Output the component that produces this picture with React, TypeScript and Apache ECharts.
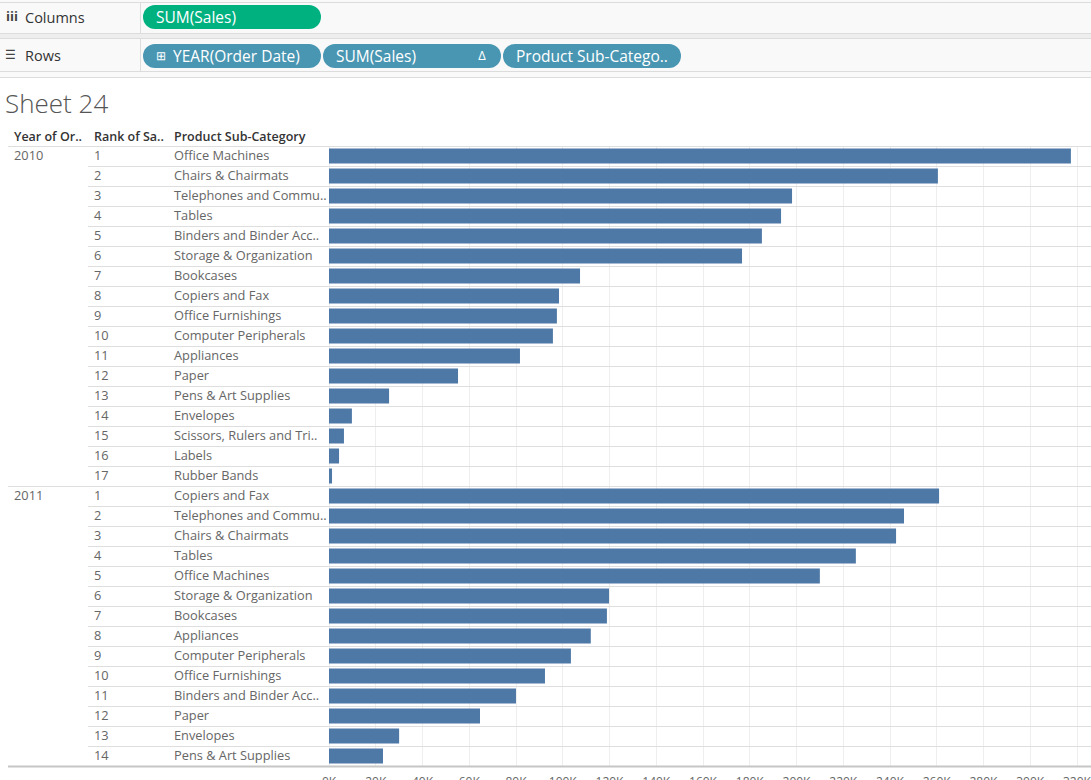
import React, { useEffect, useRef } from "react";
import * as echarts from "echarts";

const years = ["2010", "2011"];
const subCats2010 = [
  "Office Machines", "Chairs & Chairmats", "Telephones and Commu..", "Tables",
  "Binders and Binder Acc..", "Storage & Organization", "Bookcases", "Copiers and Fax",
  "Office Furnishings", "Computer Peripherals", "Appliances", "Paper",
  "Pens & Art Supplies", "Envelopes", "Scissors, Rulers and Tri..", "Labels", "Rubber Bands",
];
const sales2010 = [
  317400, 260500, 198100, 193400, 185200, 176700, 107400, 98400, 97500, 95800,
  81700, 55200, 25700, 9800, 6400, 4300, 1300,
];
const subCats2011 = [
  "Copiers and Fax", "Telephones and Commu..", "Chairs & Chairmats", "Tables",
  "Office Machines", "Storage & Organization", "Bookcases", "Appliances",
  "Computer Peripherals", "Office Furnishings", "Binders and Binder Acc..", "Paper",
  "Envelopes", "Pens & Art Supplies",
];
const sales2011 = [
  261000, 246000, 242600, 225400, 210000, 119800, 118900, 112000, 103500, 92400,
  80000, 64600, 30000, 23100,
];
const headers = ["Year of Or..", "Rank of Sa..", "Product Sub-Category"];
const tickStep = 20000;

const FONT = "'Open Sans', 'Noto Sans', sans-serif";

export default function App() {
  const ref = useRef<HTMLDivElement>(null);
  useEffect(() => {
    if (!ref.current) return;
    const chart = echarts.init(ref.current, null, { renderer: "svg" });

    const groups = [
      { year: years[0], cats: subCats2010, vals: sales2010 },
      { year: years[1], cats: subCats2011, vals: sales2011 },
    ];
    const categories: string[] = [];
    const values: number[] = [];
    const groupStarts: number[] = [];
    groups.forEach((g) => {
      groupStarts.push(categories.length);
      g.cats.forEach((c, i) => {
        categories.push(`${i === 0 ? g.year : ""}|${i + 1}|${c}`);
        values.push(g.vals[i]);
      });
    });

    const top = 146;
    const rowH = 20;
    const nRows = categories.length;
    const bottom = top + rowH * nRows;
    const W = 1091;

    const lineEls: any[] = [];
    for (let k = 0; k <= nRows; k++) {
      const y = top + k * rowH;
      const isGroup = k === 0 || groupStarts.includes(k);
      const isBottom = k === nRows;
      lineEls.push({
        type: "line",
        silent: true,
        z: 10,
        shape: { x1: isGroup || isBottom ? 8 : 88, y1: y + 0.5, x2: W, y2: y + 0.5 },
        style: { stroke: isBottom ? "#c6c6c6" : "#dedede", lineWidth: isBottom ? 2 : 1 },
      });
    }

    const pill = (x: number, y: number, w: number, color: string) => ({
      type: "rect",
      shape: { x, y, width: w, height: 24, r: 12 },
      style: { fill: color },
    });
    const txt = (x: number, y: number, text: string, size: number, fill: string, weight: any = "normal", align = "left") => ({
      type: "text",
      x,
      y,
      style: { text, fill, font: `${weight} ${size}px ${FONT}`, textAlign: align, textVerticalAlign: "middle" },
    });

    const shelfLines = [2, 33, 38, 71, 77].map((y) => ({
      type: "line",
      shape: { x1: 0, y1: y + 0.5, x2: W, y2: y + 0.5 },
      style: { stroke: "#dcdcdc", lineWidth: 1 },
    }));

    const graphic: any[] = [
      { type: "rect", shape: { x: 0, y: 0, width: W, height: 77 }, style: { fill: "#f9f9f9" } },
      { type: "rect", shape: { x: 0, y: 33, width: W, height: 5 }, style: { fill: "#eeeeee" } },
      ...shelfLines,
      { type: "line", shape: { x1: 140.5, y1: 2, x2: 140.5, y2: 33 }, style: { stroke: "#dcdcdc" } },
      { type: "line", shape: { x1: 140.5, y1: 38, x2: 140.5, y2: 71 }, style: { stroke: "#dcdcdc" } },
      txt(6, 16, "iii", 13, "#444", "bold"),
      txt(25, 17, "Columns", 14.5, "#333"),
      txt(5, 54, "☰", 12, "#444"),
      txt(25, 55, "Rows", 14.5, "#333"),
      pill(143, 5, 178, "#00b180"),
      txt(156, 17, "SUM(Sales)", 15.5, "#ffffff"),
      pill(143, 44, 178, "#4996b2"),
      txt(156, 55, "⊞", 12, "#ffffff"),
      txt(173, 56, "YEAR(Order Date)", 15.5, "#ffffff"),
      pill(323, 44, 178, "#4996b2"),
      txt(336, 56, "SUM(Sales)", 15.5, "#ffffff"),
      txt(482, 55, "Δ", 13, "#ffffff", "normal", "center"),
      pill(503, 44, 178, "#4996b2"),
      txt(516, 56, "Product Sub-Catego..", 15.5, "#ffffff"),
      txt(5, 103, "Sheet 24", 26, "#555555", 300),
      txt(14, 136, headers[0], 12.5, "#333333", 600),
      txt(94, 136, headers[1], 12.5, "#333333", 600),
      txt(174, 136, headers[2], 12.5, "#333333", 600),
      ...lineEls,
    ];

    const rowText = { align: "left", color: "#666666", fontSize: 12.8, fontFamily: FONT, lineHeight: 18 };

    chart.setOption({
      animation: false,
      backgroundColor: "#ffffff",
      grid: {
        left: 329,
        top,
        width: W - 329,
        height: bottom - top,
        containLabel: false,
        outerBoundsMode: "none",
      },
      xAxis: {
        type: "value",
        min: 0,
        max: 326000,
        interval: tickStep,
        axisLine: { show: false },
        axisTick: { show: false },
        splitLine: { show: true, lineStyle: { color: "#eeeeee", width: 1 } },
        axisLabel: {
          color: "#666666",
          fontSize: 12,
          fontFamily: FONT,
          margin: 9,
          formatter: (v: number) => (v % tickStep === 0 ? `${v / 1000}K` : ""),
        },
      },
      yAxis: {
        type: "category",
        inverse: true,
        data: categories,
        axisLine: { show: false },
        axisTick: { show: false },
        splitLine: { show: false },
        axisLabel: {
          interval: 0,
          margin: 0,
          padding: [0, 0, 2, 0],
          formatter: (v: string) => {
            const [y, r, s] = v.split("|");
            return `{yr|${y || " "}}{rk|${r}}{sc|${s}}`;
          },
          rich: {
            yr: { ...rowText, width: 80 },
            rk: { ...rowText, width: 80 },
            sc: { ...rowText, width: 155 },
          },
        },
      },
      series: [
        {
          type: "bar",
          data: values,
          barWidth: 15,
          itemStyle: { color: "#4e79a7" },
        },
      ],
      graphic,
    });
    return () => chart.dispose();
  }, []);
  return <div ref={ref} style={{ position: "absolute", left: 0, top: 0, width: 1091, height: 780 }} />;
}
